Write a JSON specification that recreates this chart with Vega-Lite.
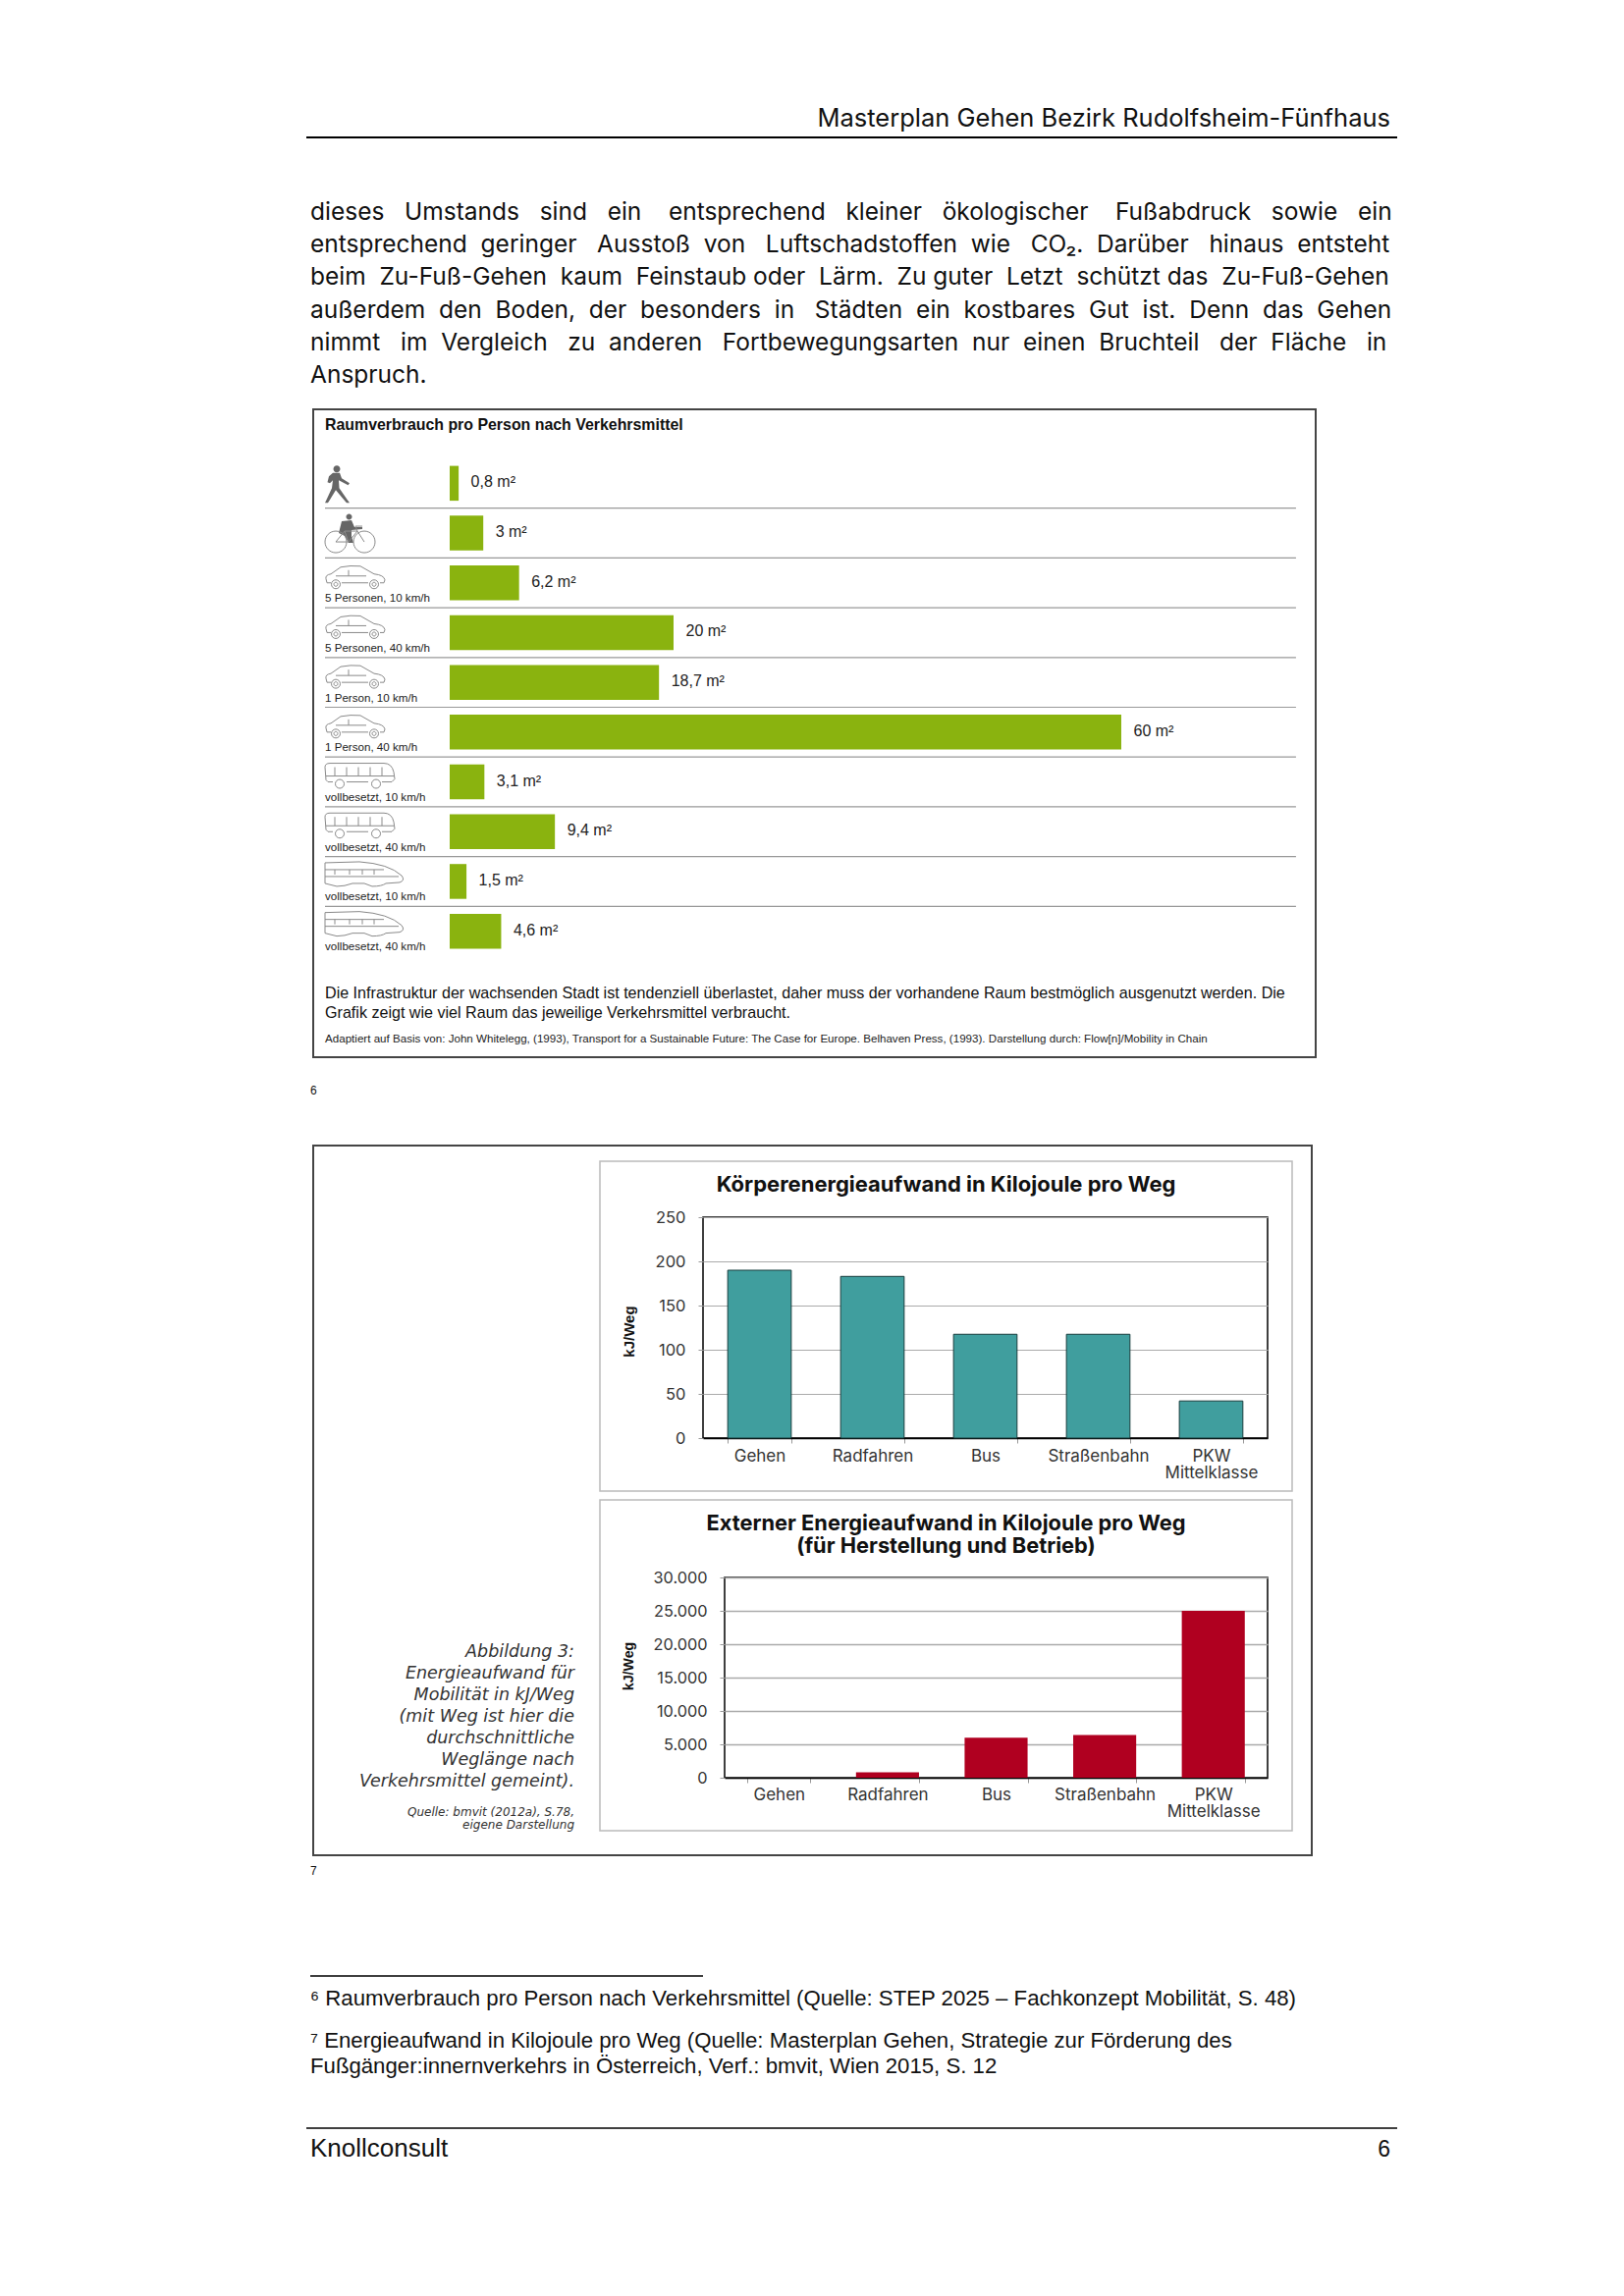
{"$schema":"https://vega.github.io/schema/vega-lite/v6.json","padding":{"left":311,"top":100,"right":0,"bottom":0},"background":"white","bounds":"flush","spacing":0,
"config":{"view":{"stroke":null},"font":"Liberation Sans","text":{"font":"Liberation Sans"}},
"vconcat":[
{"width":1111,"height":39,"data":{"values":[{"t":"Masterplan Gehen Bezirk Rudolfsheim-Fünfhaus"}]},"mark":{"type":"text","font":"Inter","align":"right","baseline":"alphabetic","fontSize":25.5,"dy":9.5,"color":"#111"},"encoding":{"text":{"field":"t"},"x":{"datum":1104,"scale":{"domain":[0,1111],"nice":false},"axis":null}}},
{"width":1111,"height":2,"data":{"values":[{}]},"mark":{"type":"rule","strokeWidth":2,"color":"#000"},"encoding":{"x":{"datum":0,"scale":{"domain":[0,1111]},"axis":null},"x2":{"datum":1111}}},
{"width":1,"height":60,"data":{"values":[{}]},"mark":{"type":"text"},"encoding":{}},
{"width":1111,"height":200,"data":{"values":[
{"n":1,"t":"dieses \u00a0\u00a0Umstands \u00a0\u00a0sind \u00a0\u00a0ein \u00a0\u00a0\u00a0entsprechend \u00a0\u00a0kleiner \u00a0\u00a0ökologischer \u00a0\u00a0\u00a0Fußabdruck \u00a0\u00a0sowie \u00a0\u00a0ein"},
{"n":2,"t":"entsprechend \u00a0geringer \u00a0\u00a0Ausstoß \u00a0von \u00a0\u00a0Luftschadstoffen \u00a0wie \u00a0\u00a0CO₂. \u00a0Darüber \u00a0\u00a0hinaus \u00a0entsteht"},
{"n":3,"t":"beim \u00a0Zu-Fuß-Gehen \u00a0kaum \u00a0Feinstaub oder \u00a0Lärm. \u00a0Zu guter \u00a0Letzt \u00a0schützt das \u00a0Zu-Fuß-Gehen"},
{"n":4,"t":"außerdem \u00a0den \u00a0Boden, \u00a0der \u00a0besonders \u00a0in \u00a0\u00a0Städten \u00a0ein \u00a0kostbares \u00a0Gut \u00a0ist. \u00a0Denn \u00a0das \u00a0Gehen"},
{"n":5,"t":"nimmt \u00a0\u00a0im \u00a0Vergleich \u00a0\u00a0zu \u00a0anderen \u00a0\u00a0Fortbewegungsarten \u00a0nur \u00a0einen \u00a0Bruchteil \u00a0\u00a0der \u00a0Fläche \u00a0\u00a0in"},
{"n":6,"t":"Anspruch."}]},"mark":{"type":"text","font":"Inter","align":"left","baseline":"alphabetic","fontSize":24.5,"dy":6,"color":"#111"},"encoding":{"text":{"field":"t"},"x":{"datum":4,"scale":{"domain":[0,1111],"nice":false},"axis":null},"y":{"field":"n","type":"ordinal","axis":null}}},
{"width":1,"height":16,"data":{"values":[{}]},"mark":{"type":"text"},"encoding":{}},
{"hconcat":[
{"width":7,"height":1,"data":{"values":[{}]},"mark":{"type":"text"},"encoding":{}},
{"width":1021,"height":660,"view":{"stroke":"#444","strokeWidth":2},
"data":{"values":[
{"mode":"Gehen","value":0.8,"label":"0,8 m²","caption":"","figure":"walker","vehicle":""},
{"mode":"Rad","value":3,"label":"3 m²","caption":"","figure":"rider","vehicle":"bike"},
{"mode":"Auto 5 P 10","value":6.2,"label":"6,2 m²","caption":"5 Personen, 10 km/h","figure":"","vehicle":"car"},
{"mode":"Auto 5 P 40","value":20,"label":"20 m²","caption":"5 Personen, 40 km/h","figure":"","vehicle":"car"},
{"mode":"Auto 1 P 10","value":18.7,"label":"18,7 m²","caption":"1 Person, 10 km/h","figure":"","vehicle":"car"},
{"mode":"Auto 1 P 40","value":60,"label":"60 m²","caption":"1 Person, 40 km/h","figure":"","vehicle":"car"},
{"mode":"Bus 10","value":3.1,"label":"3,1 m²","caption":"vollbesetzt, 10 km/h","figure":"","vehicle":"bus"},
{"mode":"Bus 40","value":9.4,"label":"9,4 m²","caption":"vollbesetzt, 40 km/h","figure":"","vehicle":"bus"},
{"mode":"Bahn 10","value":1.5,"label":"1,5 m²","caption":"vollbesetzt, 10 km/h","figure":"","vehicle":"train"},
{"mode":"Bahn 40","value":4.6,"label":"4,6 m²","caption":"vollbesetzt, 40 km/h","figure":"","vehicle":"train"}]},
"layer":[
{"transform":[{"filter":"datum.mode!='Bahn 40'"}],"mark":{"type":"rule","color":"#999","strokeWidth":1.2},"encoding":{
"x":{"datum":-11.14,"scale":{"domain":[-12.193,77.37],"nice":false,"zero":false},"axis":null},"x2":{"datum":75.61},
"y":{"field":"mode","type":"nominal","bandPosition":1,"axis":null,"scale":{"type":"band","domain":["Gehen","Rad","Auto 5 P 10","Auto 5 P 40","Auto 1 P 10","Auto 1 P 40","Bus 10","Bus 40","Bahn 10","Bahn 40"],"range":[50,557],"paddingInner":0,"paddingOuter":0}}}},
{"mark":{"type":"bar","color":"#8ab30f","size":35.5},"encoding":{"x":{"field":"value","type":"quantitative","axis":null},"x2":{"datum":0},"y":{"field":"mode","type":"nominal","axis":null}}},
{"mark":{"type":"text","align":"left","baseline":"alphabetic","fontSize":16,"dx":12.5,"dy":4,"color":"#222"},"encoding":{"x":{"field":"value","type":"quantitative"},"y":{"field":"mode","type":"nominal"},"text":{"field":"label"}}},
{"transform":[{"filter":"datum.caption!=''"}],"mark":{"type":"text","align":"left","baseline":"alphabetic","fontSize":11.6,"dy":19.5,"color":"#222"},"encoding":{"x":{"datum":-11.14},"y":{"field":"mode","type":"nominal"},"text":{"field":"caption"}}},
{"transform":[{"filter":"datum.figure!=''"}],"mark":{"type":"point","filled":true,"color":"#666","size":40000,"opacity":1},"encoding":{"x":{"datum":-11.14},"y":{"field":"mode","type":"nominal"},"shape":{"field":"figure","type":"nominal","legend":null,"scale":{"domain":["walker","rider","bike","car","bus","train"],"range":[
"M.085,-.145 A.035,.035 0 1 1 .155,-.145 A.035,.035 0 1 1 .085,-.145 Z M.08,-.105 L.15,-.105 L.17,-.05 L.25,0 L.235,.02 L.14,-.03 L.145,.05 L.25,.2 L.22,.2 L.11,.07 L.03,.2 L0,.2 L.07,.05 L.08,-.03 L.05,0 L.025,-.01 L.04,-.07 Z",
"M.215,-.165 A.03,.03 0 1 1 .275,-.165 A.03,.03 0 1 1 .215,-.165 Z M.17,-.12 L.27,-.13 L.3,-.06 L.38,-.06 L.38,-.04 L.27,-.03 L.27,.03 L.29,.1 L.24,.1 L.2,.03 L.14,0 Z",
"M0,.09 A.11,.11 0 1 1 .22,.09 A.11,.11 0 1 1 0,.09 M.29,.09 A.11,.11 0 1 1 .51,.09 A.11,.11 0 1 1 .29,.09 M.11,.09 L.2,-.02 L.33,-.02 L.4,.09 M.2,-.02 L.24,.09 L.33,-.02 M.33,-.02 L.31,-.07 L.38,-.07 M.11,.09 L.24,.09",
"M.02,0 L.01,-.04 Q0,-.08 .06,-.09 L.16,-.16 Q.26,-.18 .36,-.17 L.5,-.09 Q.6,-.08 .61,-.03 L.6,0 L.56,0 M.44,0 L.17,0 M.06,0 L.02,0 M.065,.015 A.045,.045 0 1 0 .155,.015 A.045,.045 0 1 0 .065,.015 M.455,.015 A.045,.045 0 1 0 .545,.015 A.045,.045 0 1 0 .455,.015 M.09,.015 A.02,.02 0 1 0 .13,.015 A.02,.02 0 1 0 .09,.015 M.48,.015 A.02,.02 0 1 0 .52,.015 A.02,.02 0 1 0 .48,.015 M.11,-.07 L.42,-.07 M.24,-.13 L.24,-.07",
"M.03,0 L.01,-.02 L0,-.15 Q0,-.19 .05,-.19 L.6,-.19 Q.68,-.19 .7,-.1 L.71,-.03 L.68,0 L.58,0 M.44,0 L.22,0 M.08,0 L.03,0 M.105,.02 A.045,.045 0 1 0 .195,.02 A.045,.045 0 1 0 .105,.02 M.475,.02 A.045,.045 0 1 0 .565,.02 A.045,.045 0 1 0 .475,.02 M.1,-.15 L.1,-.06 M.22,-.15 L.22,-.06 M.34,-.15 L.34,-.06 M.46,-.15 L.46,-.06 M.58,-.15 L.58,-.06 M.01,-.06 L.7,-.06",
"M0,-.19 L.35,-.2 Q.65,-.18 .78,-.06 Q.82,-.01 .76,.01 L.62,.02 Q.58,.05 .48,.05 L.4,.02 L.28,.02 Q.2,.05 .12,.05 L0,.02 Z M0,-.12 L.6,-.12 M.1,-.12 L.1,-.07 M.25,-.12 L.25,-.07 M.38,-.12 L.38,-.07 M.5,-.12 L.5,-.07 M0,-.05 L.75,-.05"]}}}},
{"transform":[{"filter":"datum.vehicle!=''"}],"mark":{"type":"point","filled":false,"color":"#8a8a8a","strokeWidth":1,"size":40000,"opacity":1},"encoding":{"x":{"datum":-11.14},"y":{"field":"mode","type":"nominal"},"shape":{"field":"vehicle","type":"nominal","legend":null}}},
{"data":{"values":[{"t":"Raumverbrauch pro Person nach Verkehrsmittel"}]},"mark":{"type":"text","align":"left","baseline":"alphabetic","fontSize":15.9,"fontWeight":"bold","dy":-309,"color":"#111"},"encoding":{"x":{"datum":-11.14},"text":{"field":"t"}}},
{"data":{"values":[{"t":"Die Infrastruktur der wachsenden Stadt ist tendenziell überlastet, daher muss der vorhandene Raum bestmöglich ausgenutzt werden. Die\nGrafik zeigt wie viel Raum das jeweilige Verkehrsmittel verbraucht."}]},"mark":{"type":"text","align":"left","baseline":"alphabetic","fontSize":16.1,"lineBreak":"\n","lineHeight":20,"dy":270,"color":"#111"},"encoding":{"x":{"datum":-11.14},"text":{"field":"t"}}},
{"data":{"values":[{"t":"Adaptiert auf Basis von: John Whitelegg, (1993), Transport for a Sustainable Future: The Case for Europe. Belhaven Press, (1993). Darstellung durch: Flow[n]/Mobility in Chain"}]},"mark":{"type":"text","align":"left","baseline":"alphabetic","fontSize":11.6,"dy":315,"color":"#222"},"encoding":{"x":{"datum":-11.14},"text":{"field":"t"}}}
]}],"spacing":0,"bounds":"flush"},
{"width":1,"height":683,"data":{"values":[{}]},"mark":{"type":"text"},"encoding":{}},
{"width":1111,"height":20,"data":{"values":[{"t":"6"}]},"mark":{"type":"text","align":"left","baseline":"alphabetic","fontSize":12,"dy":5,"color":"#111"},"encoding":{"text":{"field":"t"},"x":{"datum":4,"scale":{"domain":[0,1111],"nice":false},"axis":null}}},
{"width":1,"height":47,"data":{"values":[{}]},"mark":{"type":"text"},"encoding":{}},
{"hconcat":[
{"width":7,"height":1,"data":{"values":[{}]},"mark":{"type":"text"},"encoding":{}},
{"vconcat":[
{"hconcat":[{"width":1017,"height":723,"view":{"stroke":"#444","strokeWidth":2},"layer":[
{"data":{"values":[{"t":"Abbildung 3:\nEnergieaufwand für\nMobilität in kJ/Weg\n(mit Weg ist hier die\ndurchschnittliche\nWeglänge nach\nVerkehrsmittel gemeint)."}]},"mark":{"type":"text","font":"DejaVu Sans","align":"right","baseline":"alphabetic","fontStyle":"italic","fontSize":17.5,"lineBreak":"\n","lineHeight":22,"dy":159.5,"color":"#333"},"encoding":{"x":{"datum":266,"scale":{"domain":[0,1017],"nice":false},"axis":null},"text":{"field":"t"}}},
{"data":{"values":[{"t":"Quelle: bmvit (2012a), S.78,\neigene Darstellung"}]},"mark":{"type":"text","font":"DejaVu Sans","align":"right","baseline":"alphabetic","fontStyle":"italic","fontSize":12,"lineBreak":"\n","lineHeight":12.5,"dy":321.5,"color":"#333"},"encoding":{"x":{"datum":266,"scale":{"domain":[0,1017],"nice":false},"axis":null},"text":{"field":"t"}}}
]}],"spacing":0,"bounds":"flush"},
{"width":1,"height":16,"data":{"values":[{}]},"mark":{"type":"text"},"encoding":{}},
{"hconcat":[
{"width":292,"height":1,"data":{"values":[{}]},"mark":{"type":"text"},"encoding":{}},
{"vconcat":[
{"hconcat":[{"width":705,"height":336,"view":{"stroke":"#bbb","strokeWidth":1.5},"data":{"values":[{"t":"Körperenergieaufwand in Kilojoule pro Weg"}]},"mark":{"type":"text","font":"Inter","baseline":"alphabetic","fontWeight":"bold","fontSize":22,"dy":-137,"color":"#111"},"encoding":{"text":{"field":"t"}}}],"spacing":0,"bounds":"flush"},
{"width":1,"height":57,"data":{"values":[{}]},"mark":{"type":"text"},"encoding":{}},
{"hconcat":[
{"width":105,"height":1,"data":{"values":[{}]},"mark":{"type":"text"},"encoding":{}},
{"width":575,"height":225,"view":{"stroke":"#000","strokeWidth":1.5},"data":{"values":[{"m":"Gehen","v":190},{"m":"Radfahren","v":183},{"m":"Bus","v":117.5},{"m":"Straßenbahn","v":117.5},{"m":"PKW Mittelklasse","v":42}]},"mark":{"type":"bar","color":"#409e9e","stroke":"#163c3c","strokeWidth":1},"encoding":{
"x":{"field":"m","type":"nominal","sort":null,"scale":{"paddingInner":0.4375,"paddingOuter":0.219},"axis":{"title":null,"labelAngle":0,"labelFont":"Inter","labelFontSize":17,"labelColor":"#333","labelPadding":5,"tickBand":"extent","tickColor":"#999","tickSize":5,"domainColor":"#000","domainWidth":1.5,"labelLineHeight":17,"labelExpr":"datum.label=='PKW Mittelklasse'?['PKW','Mittelklasse']:datum.label"}},
"y":{"field":"v","type":"quantitative","scale":{"domain":[0,250],"nice":false},"axis":{"values":[0,50,100,150,200,250],"title":"kJ/Weg","titleFontSize":15,"titleFontWeight":"bold","titleColor":"#111","titleX":-68,"titleY":116,"labelFont":"Inter","labelFontSize":16.5,"labelColor":"#333","labelPadding":13,"tickSize":5,"tickColor":"#999","domain":false,"grid":true,"gridColor":"#aaa","gridWidth":1}}}}
],"spacing":0,"bounds":"flush"},
{"width":1,"height":288,"data":{"values":[{}]},"mark":{"type":"text"},"encoding":{}},
{"hconcat":[{"width":705,"height":337,"view":{"stroke":"#bbb","strokeWidth":1.5},"data":{"values":[{"t":"Externer Energieaufwand in Kilojoule pro Weg\n(für Herstellung und Betrieb)"}]},"mark":{"type":"text","font":"Inter","baseline":"alphabetic","fontWeight":"bold","fontSize":21.8,"lineBreak":"\n","lineHeight":23,"dy":-138,"color":"#111"},"encoding":{"text":{"field":"t"}}}],"spacing":0,"bounds":"flush"},
{"width":1,"height":79,"data":{"values":[{}]},"mark":{"type":"text"},"encoding":{}},
{"hconcat":[
{"width":127,"height":1,"data":{"values":[{}]},"mark":{"type":"text"},"encoding":{}},
{"width":553,"height":204,"view":{"stroke":"#000","strokeWidth":1.5},"data":{"values":[{"m":"Gehen","v":0},{"m":"Radfahren","v":800},{"m":"Bus","v":6000},{"m":"Straßenbahn","v":6400},{"m":"PKW Mittelklasse","v":25000}]},"mark":{"type":"bar","color":"#b00020"},"encoding":{
"x":{"field":"m","type":"nominal","sort":null,"scale":{"paddingInner":0.42,"paddingOuter":0.21},"axis":{"title":null,"labelAngle":0,"labelFont":"Inter","labelFontSize":17,"labelColor":"#333","labelPadding":4,"tickBand":"extent","tickColor":"#999","tickSize":5,"domainColor":"#000","domainWidth":1.5,"labelLineHeight":17,"labelExpr":"datum.label=='PKW Mittelklasse'?['PKW','Mittelklasse']:datum.label"}},
"y":{"field":"v","type":"quantitative","scale":{"domain":[0,30000],"nice":false},"axis":{"values":[0,5000,10000,15000,20000,25000,30000],"labelExpr":"replace(format(datum.value,','),',','.')","title":"kJ/Weg","titleFontSize":14.2,"titleFontWeight":"bold","titleColor":"#111","titleX":-91,"titleY":90,"labelFont":"Inter","labelFontSize":16.3,"labelColor":"#333","labelPadding":13,"tickSize":5,"tickColor":"#999","domain":false,"grid":true,"gridColor":"#aaa","gridWidth":1.5}}}}
],"spacing":0,"bounds":"flush"}
],"spacing":0,"bounds":"flush"}
],"spacing":0,"bounds":"flush"}
],"spacing":0,"bounds":"flush"}
],"spacing":0,"bounds":"flush"},
{"width":1,"height":729,"data":{"values":[{}]},"mark":{"type":"text"},"encoding":{}},
{"width":1111,"height":20,"data":{"values":[{"t":"7"}]},"mark":{"type":"text","align":"left","baseline":"alphabetic","fontSize":12,"dy":4,"color":"#111"},"encoding":{"text":{"field":"t"},"x":{"datum":4,"scale":{"domain":[0,1111],"nice":false},"axis":null}}},
{"width":1,"height":96,"data":{"values":[{}]},"mark":{"type":"text"},"encoding":{}},
{"width":1111,"height":2,"data":{"values":[{}]},"mark":{"type":"rule","strokeWidth":1.5,"color":"#000"},"encoding":{"x":{"datum":4,"scale":{"domain":[0,1111]},"axis":null},"x2":{"datum":404}}},
{"width":1111,"height":38,"data":{"values":[{"t":"⁶ Raumverbrauch pro Person nach Verkehrsmittel (Quelle: STEP 2025 – Fachkonzept Mobilität, S. 48)"}]},"mark":{"type":"text","align":"left","baseline":"alphabetic","fontSize":22.2,"dy":10,"color":"#111"},"encoding":{"text":{"field":"t"},"x":{"datum":4,"scale":{"domain":[0,1111],"nice":false},"axis":null}}},
{"width":1,"height":14,"data":{"values":[{}]},"mark":{"type":"text"},"encoding":{}},
{"width":1111,"height":52,"data":{"values":[{"n":1,"t":"⁷ Energieaufwand in Kilojoule pro Weg (Quelle: Masterplan Gehen, Strategie zur Förderung des"},{"n":2,"t":"Fußgänger:innernverkehrs in Österreich, Verf.: bmvit, Wien 2015, S. 12"}]},"mark":{"type":"text","align":"left","baseline":"alphabetic","fontSize":22.2,"dy":7,"color":"#111"},"encoding":{"text":{"field":"t"},"x":{"datum":4,"scale":{"domain":[0,1111],"nice":false},"axis":null},"y":{"field":"n","type":"ordinal","axis":null}}},
{"width":1,"height":49,"data":{"values":[{}]},"mark":{"type":"text"},"encoding":{}},
{"width":1111,"height":2,"data":{"values":[{}]},"mark":{"type":"rule","strokeWidth":1.5,"color":"#000"},"encoding":{"x":{"datum":0,"scale":{"domain":[0,1111]},"axis":null},"x2":{"datum":1111}}},
{"width":1111,"height":40,"layer":[
{"data":{"values":[{"t":"Knollconsult"}]},"mark":{"type":"text","align":"left","baseline":"alphabetic","fontSize":26,"dy":8,"color":"#111"},"encoding":{"text":{"field":"t"},"x":{"datum":4,"scale":{"domain":[0,1111],"nice":false},"axis":null}}},
{"data":{"values":[{"t":"6"}]},"mark":{"type":"text","align":"right","baseline":"alphabetic","fontSize":23,"dy":8,"color":"#111"},"encoding":{"text":{"field":"t"},"x":{"datum":1104,"scale":{"domain":[0,1111],"nice":false},"axis":null}}}
]}
]}
